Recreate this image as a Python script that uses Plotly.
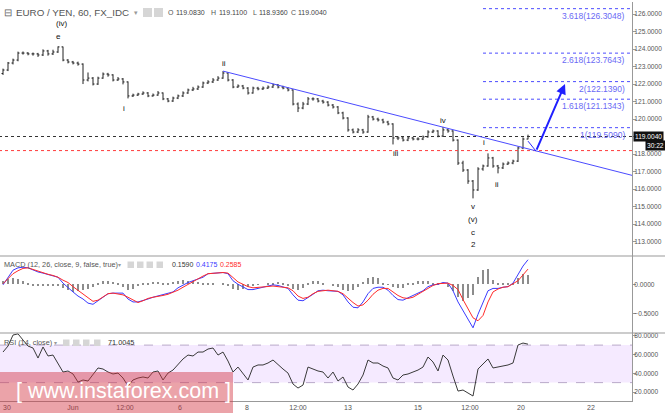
import plotly.graph_objects as go
from plotly.subplots import make_subplots

# ---------------- data ----------------
bar_index = list(range(106))
first_open = 122.60
close = [122.80, 123.20, 123.37, 123.77, 123.77, 123.72, 123.72, 123.66, 123.89, 123.72,
         123.83, 124.12, 123.37, 123.26, 123.20, 123.14, 122.23, 122.34, 122.00, 122.34,
         122.57, 122.52, 122.23, 122.29, 122.12, 121.32, 121.37, 121.43, 121.49, 121.32,
         121.37, 121.49, 121.15, 121.03, 121.20, 121.32, 121.49, 121.66, 121.72, 121.83,
         122.06, 122.12, 122.23, 122.34, 122.63, 122.23, 121.83, 121.89, 121.77, 121.49,
         121.77, 121.72, 121.77, 121.83, 121.95, 121.83, 121.77, 121.66, 120.86, 120.63,
         120.86, 121.15, 121.15, 121.03, 120.97, 120.80, 120.69, 120.35, 120.06, 119.38,
         119.26, 119.38, 119.26, 120.12, 120.00, 119.95, 119.83, 119.72, 118.92, 118.92,
         118.80, 118.92, 118.86, 118.86, 118.98, 119.26, 119.32, 119.03, 119.38, 119.32,
         118.80, 117.49, 117.09, 116.46, 115.95, 117.15, 117.32, 117.78, 117.32, 117.21,
         117.43, 117.49, 117.60, 118.35, 118.86, 119.004]
high = [122.88, 123.26, 123.45, 123.85, 123.86, 123.82, 123.80, 123.78, 123.98, 123.95,
        123.96, 124.15, 124.14, 123.42, 123.32, 123.28, 123.18, 122.66, 122.40, 122.42,
        122.66, 122.64, 122.56, 122.40, 122.34, 122.15, 121.45, 121.50, 121.58, 121.54,
        121.46, 121.60, 121.52, 121.20, 121.28, 121.40, 121.58, 121.74, 121.84, 121.92,
        122.14, 122.22, 122.34, 122.45, 122.74, 122.66, 122.28, 121.98, 121.95, 121.82,
        121.85, 121.84, 121.86, 121.92, 122.02, 122.00, 121.90, 121.82, 121.70, 120.95,
        120.98, 121.26, 121.24, 121.20, 121.10, 121.02, 120.86, 120.74, 120.42, 120.10,
        119.46, 119.48, 119.44, 120.24, 120.18, 120.08, 120.02, 119.90, 119.76, 119.02,
        118.98, 119.00, 118.98, 118.96, 119.06, 119.36, 119.40, 119.36, 119.55, 119.46,
        119.36, 118.84, 117.62, 117.14, 116.52, 117.25, 117.40, 118.04, 117.84, 117.38,
        117.52, 117.58, 117.68, 118.42, 118.95, 119.11]
low = [122.52, 122.74, 123.12, 123.30, 123.68, 123.64, 123.62, 123.55, 123.60, 123.62,
       123.66, 123.78, 123.30, 123.18, 123.12, 123.05, 122.00, 122.15, 121.92, 121.95,
       122.30, 122.42, 122.15, 122.18, 121.98, 121.18, 121.26, 121.32, 121.38, 121.25,
       121.28, 121.33, 121.08, 120.96, 120.98, 121.14, 121.26, 121.44, 121.60, 121.66,
       121.78, 122.00, 122.06, 122.18, 122.30, 122.15, 121.76, 121.78, 121.70, 121.40,
       121.45, 121.64, 121.66, 121.72, 121.78, 121.75, 121.70, 121.58, 120.78, 120.40,
       120.56, 120.80, 121.05, 120.95, 120.88, 120.72, 120.60, 120.28, 119.98, 119.28,
       119.18, 119.20, 119.16, 119.22, 119.92, 119.86, 119.75, 119.64, 118.55, 118.80,
       118.72, 118.74, 118.78, 118.78, 118.80, 118.94, 119.20, 118.96, 118.98, 119.22,
       118.72, 117.38, 116.98, 116.30, 115.47, 115.90, 117.05, 117.28, 117.22, 116.90,
       117.15, 117.38, 117.42, 117.55, 118.28, 118.84]
macd = [-0.01, 0.11, 0.24, 0.28, 0.29, 0.28, 0.24, 0.21, 0.19, 0.17,
        0.14, 0.12, 0.02, -0.06, -0.13, -0.20, -0.25, -0.32, -0.34, -0.28,
        -0.22, -0.16, -0.15, -0.15, -0.15, -0.25, -0.30, -0.30, -0.28, -0.25,
        -0.22, -0.20, -0.18, -0.16, -0.13, -0.06, -0.01, 0.03, 0.06, 0.09,
        0.12, 0.18, 0.19, 0.20, 0.20, 0.18, 0.06, 0.00, -0.04, -0.09,
        -0.09, -0.07, -0.05, -0.03, -0.01, -0.02, -0.04, -0.07, -0.18, -0.27,
        -0.28, -0.23, -0.17, -0.11, -0.10, -0.11, -0.11, -0.12, -0.18, -0.30,
        -0.39, -0.40, -0.30, -0.16, -0.07, -0.05, -0.05, -0.10, -0.19, -0.26,
        -0.27, -0.23, -0.20, -0.16, -0.11, -0.04, -0.01, 0.00, 0.03, 0.02,
        -0.11, -0.30, -0.45, -0.59, -0.74, -0.51, -0.32, -0.11, -0.07, -0.07,
        -0.05, -0.04, 0.02, 0.16, 0.31, 0.4175]
signal = [0.01, 0.10, 0.18, 0.23, 0.27, 0.28, 0.25, 0.22, 0.19, 0.17,
          0.15, 0.12, 0.07, 0.03, -0.04, -0.10, -0.16, -0.22, -0.29, -0.27,
          -0.22, -0.16, -0.15, -0.16, -0.18, -0.22, -0.27, -0.31, -0.28, -0.24,
          -0.22, -0.21, -0.19, -0.17, -0.14, -0.10, -0.05, 0.00, 0.05, 0.10,
          0.14, 0.18, 0.19, 0.20, 0.20, 0.19, 0.12, 0.04, 0.00, -0.04,
          -0.06, -0.05, -0.05, -0.04, -0.03, -0.04, -0.05, -0.06, -0.11, -0.20,
          -0.24, -0.22, -0.16, -0.12, -0.11, -0.10, -0.11, -0.12, -0.16, -0.24,
          -0.31, -0.37, -0.35, -0.27, -0.17, -0.10, -0.07, -0.07, -0.13, -0.19,
          -0.23, -0.24, -0.22, -0.17, -0.11, -0.06, -0.02, 0.01, 0.01, 0.02,
          -0.02, -0.09, -0.26, -0.42, -0.57, -0.62, -0.53, -0.30, -0.13, -0.08,
          -0.05, -0.04, 0.01, 0.06, 0.16, 0.2585]
hist = [0.06, 0.09, 0.10, 0.09, 0.06, 0.03, -0.02, -0.03, -0.03, -0.03,
        -0.02, -0.03, -0.06, -0.10, -0.13, -0.12, -0.10, -0.08, -0.05, 0.02,
        0.05, 0.06, 0.04, 0.02, -0.04, -0.09, -0.08, -0.03, 0.01, 0.03,
        0.04, 0.04, 0.03, 0.03, 0.04, 0.06, 0.07, 0.06, 0.05, 0.04,
        0.03, 0.02, 0.01, 0.00, 0.01, -0.02, -0.08, -0.10, -0.08, -0.05,
        -0.02, -0.01, 0.00, 0.01, 0.03, 0.04, 0.02, -0.02, -0.08, -0.10,
        -0.07, 0.02, 0.06, 0.05, 0.02, 0.00, -0.03, -0.05, -0.09, -0.11,
        -0.09, -0.05, 0.04, 0.11, 0.13, 0.10, 0.03, -0.01, -0.05, -0.07,
        -0.06, 0.01, 0.03, 0.05, 0.05, 0.05, 0.03, 0.01, 0.00, -0.04,
        -0.12, -0.22, -0.28, -0.24, -0.18, 0.12, 0.24, 0.26, 0.08, 0.02,
        0.01, 0.01, 0.03, 0.10, 0.18, 0.1590]
rsi = [62.6, 69.0, 80.7, 82.0, 75.4, 69.0, 66.9, 56.2, 68.0, 58.4,
       59.4, 49.8, 41.3, 42.4, 39.2, 30.6, 32.8, 31.7, 38.1, 45.6,
       44.5, 41.3, 39.2, 40.2, 34.9, 26.4, 32.8, 34.9, 36.0, 34.9,
       41.3, 42.4, 32.8, 40.2, 43.4, 48.8, 55.2, 59.4, 58.4, 62.6,
       62.6, 65.8, 66.9, 59.4, 62.6, 53.0, 41.3, 46.6, 40.2, 32.8,
       46.6, 48.8, 48.8, 50.9, 54.1, 48.8, 44.5, 40.2, 28.5, 24.2,
       27.4, 46.6, 44.5, 42.4, 41.3, 34.9, 41.3, 31.7, 36.0, 25.3,
       22.1, 28.5, 38.1, 54.1, 50.9, 50.9, 47.7, 45.6, 34.9, 32.8,
       38.1, 39.2, 41.3, 43.4, 46.6, 57.3, 52.0, 42.4, 59.4, 54.1,
       37.0, 21.0, 22.1, 18.9, 15.7, 44.5, 49.8, 55.2, 45.6, 46.6,
       47.7, 48.8, 50.9, 70.1, 72.2, 71.0045]

price_ticks = [113, 114, 115, 116, 117, 118, 119, 120, 121, 122, 123, 124, 125, 126]
macd_ticks = [-0.5, 0.0]
rsi_ticks = [20, 40, 60, 80]
x_tick_pos = [0.8, 14, 24.4, 35.4, 48.8, 59, 69, 83, 93.4, 103.6, 117.6]
x_tick_labels = ["30", "Jun", "12:00", "6", "8", "12:00", "13", "15", "12:00", "20", "22"]

fib_ratios = ["1", "1.618", "2", "2.618", "3.618"]
fib_prices = [119.5090, 121.1343, 122.1390, 123.7643, 126.3048]
fib_start = 96
last_price = 119.0040
support_price = 118.20
trend_x = [44, 130]
trend_y = [122.74, 116.48]
arrow_x = [105, 106.6, 112.4]
arrow_y = [118.74, 118.17, 122.0]
wave_text = ["(iv)", "e", "i", "ii", "iii", "iv", "i", "ii", "v", "(v)", "c", "2"]
wave_x = [11.7, 11.1, 24.2, 44.2, 78.5, 88, 96.2, 98.8, 94, 94, 94, 94]
wave_y = [125.43, 124.69, 120.63, 123.20, 118.04, 119.89, 118.69, 116.29, 114.98, 114.26, 113.51, 112.81]

open_ = [first_open] + close[:-1]

# ---------------- figure ----------------
FONT = "Liberation Sans, Arial, sans-serif"
W, H = 665, 413
L, R, T, B = 0, 33, 2, 12
PW, PH = W - L - R, H - T - B
D_MAIN = (401 - 256) / PH
D_MACD = (401 - 333) / PH

def px_x(px):
    return px / PW

def px_y(py):
    return (401 - py) / PH

fig = make_subplots(rows=3, cols=1, shared_xaxes=True, vertical_spacing=0)

fig.add_trace(go.Ohlc(x=bar_index, open=open_, high=high, low=low, close=close,
                      increasing_line_color="#222", decreasing_line_color="#222",
                      line_width=1, tickwidth=0.3, hoverinfo="skip"), row=1, col=1)

fig.add_trace(go.Scatter(x=[-2, 130], y=[last_price, last_price], mode="lines",
                         line=dict(color="#333", width=1, dash="dot")), row=1, col=1)
fig.add_trace(go.Scatter(x=[-2, 130], y=[support_price, support_price], mode="lines",
                         line=dict(color="#ff3b3b", width=1, dash="dot")), row=1, col=1)
fig.add_trace(go.Scatter(x=trend_x, y=trend_y, mode="lines",
                         line=dict(color="#4b4bff", width=1)), row=1, col=1)
for r, p in zip(fib_ratios, fib_prices):
    fig.add_trace(go.Scatter(x=[fib_start, 130], y=[p, p], mode="lines",
                             line=dict(color="#4b4bff", width=1, dash="dot")), row=1, col=1)
fig.add_trace(go.Scatter(x=arrow_x[:2], y=arrow_y[:2], mode="lines",
                         line=dict(color="#2a2aff", width=1)), row=1, col=1)

fig.add_trace(go.Bar(x=bar_index, y=hist, marker_color="#8c8c8c", marker_line_width=0,
                     width=0.4), row=2, col=1)
fig.add_trace(go.Scatter(x=bar_index, y=macd, mode="lines",
                         line=dict(color="#3b3bff", width=1)), row=2, col=1)
fig.add_trace(go.Scatter(x=bar_index, y=signal, mode="lines",
                         line=dict(color="#ff2b2b", width=1)), row=2, col=1)

fig.add_trace(go.Scatter(x=bar_index, y=rsi, mode="lines",
                         line=dict(color="#3a3a3a", width=1)), row=3, col=1)

axis_common = dict(showgrid=False, zeroline=False)
yaxis_common = dict(side="right", tickmode="array", tickformat=".4f", showline=True,
                    linecolor="#999", ticks="outside", ticklen=3, tickcolor="#999",
                    ticklabelstandoff=-3,
                    tickfont=dict(size=6.6, color="#555"), **axis_common)
xr = [-0.6, 125.8]
fig.update_layout(
    width=W, height=H, margin=dict(l=L, r=R, t=T, b=B),
    paper_bgcolor="white", plot_bgcolor="white", showlegend=False,
    font=dict(family=FONT, color="#555", size=7),
    bargap=0,
    xaxis=dict(range=xr, showticklabels=False, rangeslider=dict(visible=False), **axis_common),
    xaxis2=dict(range=xr, showticklabels=False, **axis_common),
    xaxis3=dict(range=xr, tickmode="array", tickvals=x_tick_pos, ticktext=x_tick_labels,
                tickfont=dict(size=7, color="#555"), showline=True, linecolor="#999",
                ticks="", **axis_common),
    yaxis=dict(domain=[D_MAIN, 1], range=[112.18, 126.685], tickvals=price_ticks, **yaxis_common),
    yaxis2=dict(domain=[D_MACD, D_MAIN], range=[-0.828, 0.481], tickvals=macd_ticks, **yaxis_common),
    yaxis3=dict(domain=[0, D_MACD], range=[10.4, 82.9], tickvals=rsi_ticks, **yaxis_common),
)

shapes = []
shapes.append(dict(type="rect", xref="x3 domain", x0=0, x1=1, yref="y3", y0=30, y1=70,
                   fillcolor="rgba(153,51,255,0.10)", line_width=0, layer="below"))
for lv in (30, 70):
    shapes.append(dict(type="line", xref="x3 domain", x0=0, x1=1, yref="y3", y0=lv, y1=lv,
                       line=dict(color="#b9a9c9", width=1, dash="dash"), layer="below"))
for yy in (D_MAIN, D_MACD):
    shapes.append(dict(type="line", xref="paper", yref="paper", x0=0, x1=W / PW, y0=yy, y1=yy,
                       line=dict(color="#999", width=1)))

def box(x0, x1, y0, y1, col="#d6d6d6"):
    shapes.append(dict(type="rect", xref="paper", yref="paper", x0=px_x(x0), x1=px_x(x1),
                       y0=px_y(y1), y1=px_y(y0), fillcolor=col, line_width=0))
box(143, 152, 8, 17)
box(154, 163, 8, 17)
for a in (127.5, 137, 146.5, 156.5):
    box(a, a + 6.5, 261.5, 268)
for a in (63, 73, 83, 94):
    box(a, a + 6.5, 339.5, 346)
shapes.append(dict(type="rect", xref="paper", yref="paper", x0=px_x(0), x1=px_x(233),
                   y0=px_y(413), y1=px_y(372), fillcolor="rgba(210,50,65,0.45)",
                   line_width=0, layer="above"))
fig.update_layout(shapes=shapes)

ann = []
def text_px(t, px, py, size=7.0, color="#444", xanchor="left", family=FONT):
    ann.append(dict(text=t, x=px_x(px), y=px_y(py), xref="paper", yref="paper",
                    xanchor=xanchor, yanchor="middle", showarrow=False,
                    font=dict(size=size, color=color, family=family)))

text_px("⊟", 2, 12, size=10, color="#666")
text_px("EURO / YEN, 60, FX_IDC", 14, 12, size=9.8, color="#555")
text_px("▾", 132, 12, size=7, color="#999")
text_px("O", 166, 12, color="#555")
text_px("119.0830", 174.5, 12, color="#444")
text_px("H", 208.5, 12, color="#555")
text_px("119.1100", 216.5, 12, color="#444")
text_px("L", 250.5, 12, color="#555")
text_px("118.9360", 256.5, 12, color="#444")
text_px("C", 289, 12, color="#555")
text_px("119.0040", 296, 12, color="#444")

text_px("MACD (12, 26, close, 9, false, true)", 2, 264.5, size=7.3, color="#555")
text_px("▾", 116, 264.5, size=6, color="#999")
text_px("0.1590", 170, 264.5, size=7, color="#333")
text_px("0.4175", 194, 264.5, size=7, color="#3b3bff")
text_px("0.2585", 218, 264.5, size=7, color="#ff2b2b")

text_px("RSI (14, close)", 2, 342.7, size=7.3, color="#555")
text_px("▾", 52, 342.7, size=6, color="#999")
text_px("71.0045", 105.5, 342.7, size=7.3, color="#333")

text_px("[ www.instaforex.com ]", 14, 391, size=21.5, color="white",
        family="Liberation Sans Narrow, Liberation Sans, Arial")

ann.append(dict(text="119.0040", x=633 / PW, y=last_price, xref="paper", yref="y",
                xanchor="left", yanchor="middle", showarrow=False, bgcolor="#111",
                borderpad=1, font=dict(size=6.6, color="white", family=FONT)))
ann.append(dict(text="30:22", x=645 / PW, y=px_y(145.5), xref="paper", yref="paper",
                xanchor="left", yanchor="middle", showarrow=False, bgcolor="#111",
                borderpad=1, font=dict(size=6.6, color="white", family=FONT)))

for r, p in zip(fib_ratios, fib_prices):
    ann.append(dict(text=f"{r}({p:.4f})", x=124.8, y=p, xref="x", yref="y",
                    xanchor="right", yanchor="top", showarrow=False,
                    font=dict(size=8.5, color="#6a6af5", family=FONT)))

for t, xx, yy in zip(wave_text, wave_x, wave_y):
    ann.append(dict(text=t, x=xx, y=yy, xref="x", yref="y", showarrow=False,
                    xanchor="center", yanchor="middle",
                    font=dict(size=8, color="#111", family=FONT)))

ann.append(dict(text="", x=arrow_x[2], y=arrow_y[2], ax=arrow_x[1], ay=arrow_y[1],
                xref="x", yref="y", axref="x", ayref="y", showarrow=True,
                arrowhead=2, arrowsize=1, arrowwidth=2, arrowcolor="#2020ff"))

fig.update_layout(annotations=ann)
fig.write_html("out.html", config={"displayModeBar": False},
               post_script="document.body.style.margin='0';document.body.style.padding='0';")
